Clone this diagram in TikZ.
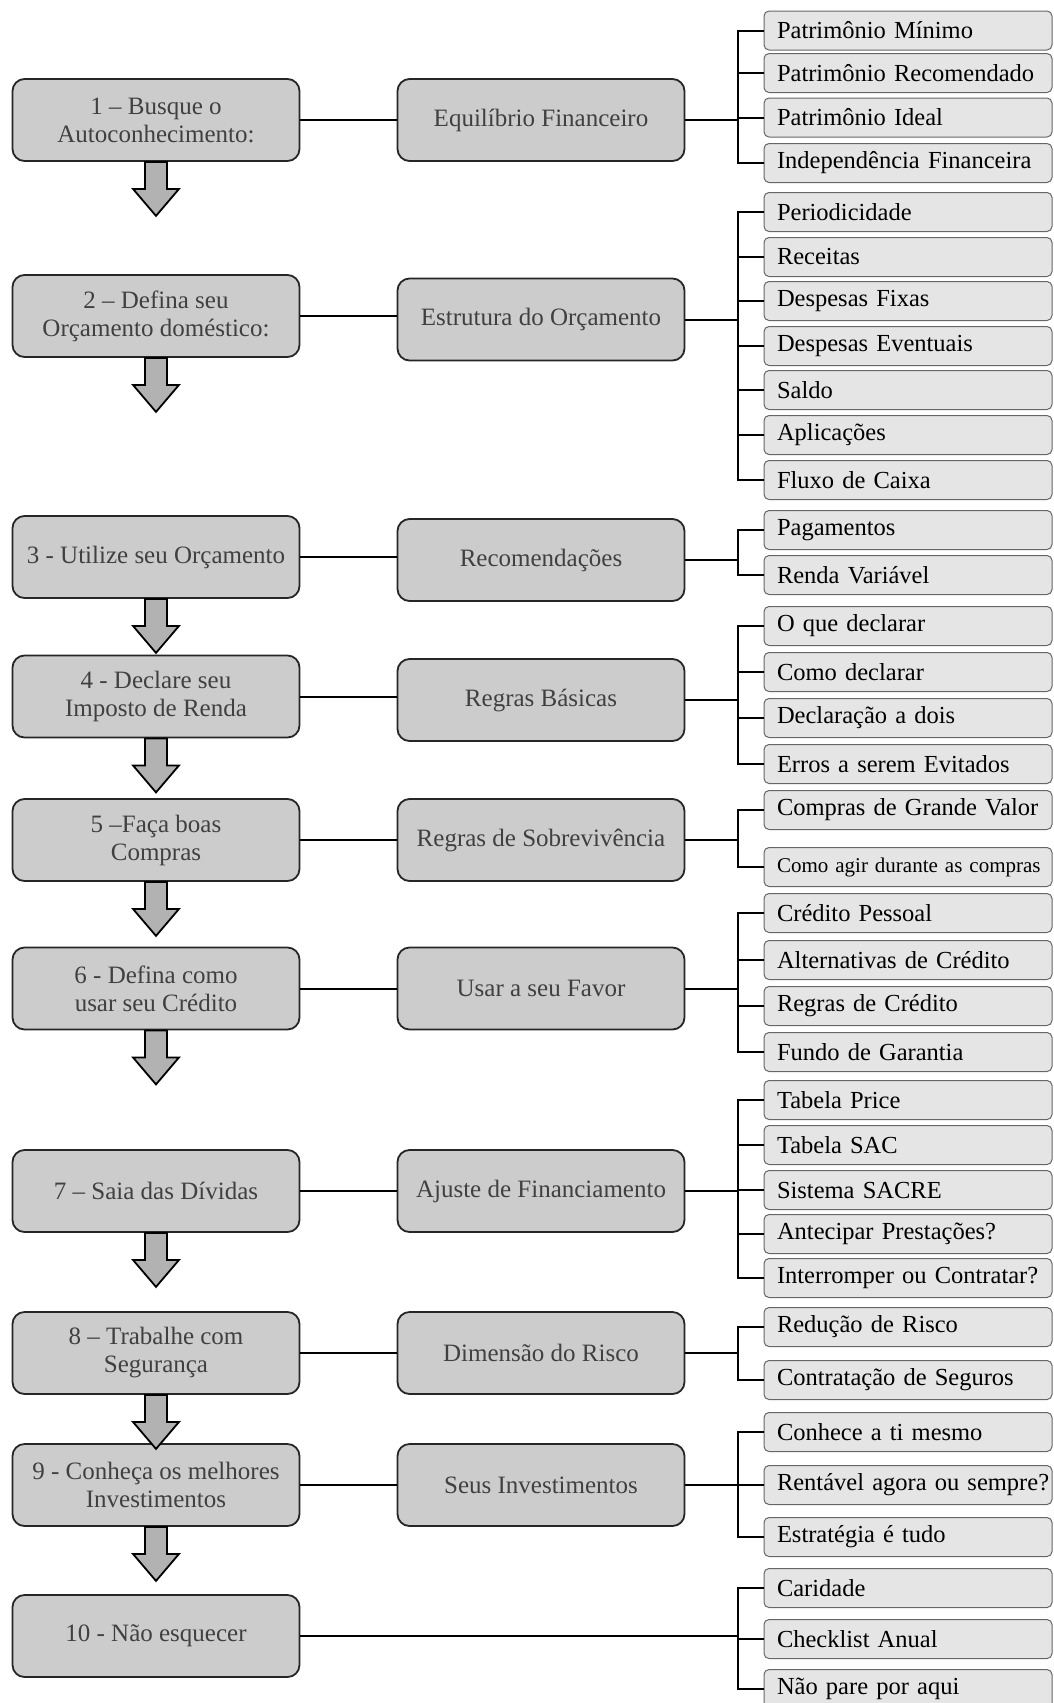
\documentclass[tikz,border=0pt]{standalone}
\usepackage{fontspec}
\setmainfont{Liberation Serif}
\begin{document}
\begin{tikzpicture}[x=1pt, y=-1pt,
    mainbox/.style={draw=black!85, line width=1.8pt, fill=black!20, rounded corners=12pt,
        minimum width=287pt, minimum height=82pt, inner sep=0pt, align=center,
        text=black!75, font=\fontsize{25}{28}\selectfont},
    subbox/.style={draw=black!60, line width=1pt, fill=black!10, rounded corners=5pt,
        minimum height=39pt, text width=262pt, inner xsep=13pt, inner ysep=0pt, align=left,
        font=\fontsize{24.5}{28}\selectfont},
    link/.style={line width=2pt},
    blockarrow/.style={draw=black, line width=1.8pt, fill=black!30}]
    \useasboundingbox (0,0) rectangle (1054,1703);

    % steps
    \node (m1)[mainbox] at (156, 120) {1 -- Busque o\\Autoconhecimento:};
    \node (m2)[mainbox] at (156, 316) {2 -- Defina seu\\Orçamento doméstico:};
    \node (m3)[mainbox] at (156, 557) {3 - Utilize seu Orçamento};
    \node (m4)[mainbox] at (156, 696.5) {4 - Declare seu\\Imposto de Renda};
    \node (m5)[mainbox] at (156, 840) {5 --Faça boas\\Compras};
    \node (m6)[mainbox] at (156, 988.5) {6 - Defina como\\usar seu Crédito};
    \node (m7)[mainbox] at (156, 1191) {7 -- Saia das Dívidas};
    \node (m8)[mainbox] at (156, 1353) {8 -- Trabalhe com\\Segurança};
    \node (m9)[mainbox] at (156, 1485) {9 - Conheça os melhores\\Investimentos};
    \node (m10)[mainbox] at (156, 1636) {10 - Não esquecer};

    % themes
    \node (n1)[mainbox] at (541, 120) {Equilíbrio Financeiro};
    \node (n2)[mainbox] at (541, 319.5) {Estrutura do Orçamento};
    \node (n3)[mainbox] at (541, 560) {Recomendações};
    \node (n4)[mainbox] at (541, 700) {Regras Básicas};
    \node (n5)[mainbox] at (541, 840) {Regras de Sobrevivência};
    \node (n6)[mainbox] at (541, 988.5) {Usar a seu Favor};
    \node (n7)[mainbox] at (541, 1191) {Ajuste de Financiamento};
    \node (n8)[mainbox] at (541, 1353) {Dimensão do Risco};
    \node (n9)[mainbox] at (541, 1485) {Seus Investimentos};

    % topics
    \node (s1a)[subbox] at (908, 30.5) {Patrimônio Mínimo};
    \node (s1b)[subbox] at (908, 73) {Patrimônio Recomendado};
    \node (s1c)[subbox] at (908, 117.5) {Patrimônio Ideal};
    \node (s1d)[subbox] at (908, 163) {Independência Financeira};

    \node (s2a)[subbox] at (908, 212) {Periodicidade};
    \node (s2b)[subbox] at (908, 257) {Receitas};
    \node (s2c)[subbox] at (908, 301) {Despesas Fixas};
    \node (s2d)[subbox] at (908, 346) {Despesas Eventuais};
    \node (s2e)[subbox] at (908, 390) {Saldo};
    \node (s2f)[subbox] at (908, 435) {Aplicações};
    \node (s2g)[subbox] at (908, 480) {Fluxo de Caixa};

    \node (s3a)[subbox] at (908, 530) {Pagamentos};
    \node (s3b)[subbox] at (908, 575) {Renda Variável};

    \node (s4a)[subbox] at (908, 626) {O que declarar};
    \node (s4b)[subbox] at (908, 672) {Como declarar};
    \node (s4c)[subbox] at (908, 718) {Declaração a dois};
    \node (s4d)[subbox] at (908, 764) {Erros a serem Evitados};

    \node (s5a)[subbox] at (908, 810) {Compras de Grande Valor};
    \node (s5b)[subbox, font=\fontsize{21}{24}\selectfont] at (908, 867) {\mbox{Como agir durante as compras}};

    \node (s6a)[subbox] at (908, 913) {Crédito Pessoal};
    \node (s6b)[subbox] at (908, 960) {Alternativas de Crédito};
    \node (s6c)[subbox] at (908, 1006) {Regras de Crédito};
    \node (s6d)[subbox] at (908, 1052) {Fundo de Garantia};

    \node (s7a)[subbox] at (908, 1100) {Tabela Price};
    \node (s7b)[subbox] at (908, 1145) {Tabela SAC};
    \node (s7c)[subbox] at (908, 1190) {Sistema SACRE};
    \node (s7d)[subbox] at (908, 1234) {Antecipar Prestações?};
    \node (s7e)[subbox] at (908, 1278) {Interromper ou Contratar?};

    \node (s8a)[subbox] at (908, 1327) {Redução de Risco};
    \node (s8b)[subbox] at (908, 1380) {Contratação de Seguros};

    \node (s9a)[subbox] at (908, 1432) {Conhece a ti mesmo};
    \node (s9b)[subbox] at (908, 1485) {\mbox{Rentável agora ou sempre?}};
    \node (s9c)[subbox] at (908, 1537) {Estratégia é tudo};

    \node (s10a)[subbox] at (908, 1588) {Caridade};
    \node (s10b)[subbox] at (908, 1639) {Checklist Anual};
    \node (s10c)[subbox] at (908, 1689) {Não pare por aqui};

    % bracket joints
    \coordinate (j1) at (738, 120);
    \coordinate (j2) at (738, 319.5);
    \coordinate (j3) at (738, 560);
    \coordinate (j4) at (738, 700);
    \coordinate (j5) at (738, 840);
    \coordinate (j6) at (738, 988.5);
    \coordinate (j7) at (738, 1191);
    \coordinate (j8) at (738, 1353);
    \coordinate (j9) at (738, 1485);
    \coordinate (j10) at (738, 1636);

    % step -> theme -> bracket
    \foreach \i in {1,...,9} {
        \draw[link] (m\i.east) -- (m\i.east -| n\i.west);
        \draw[link] (n\i.east) -- (j\i);
    }
    \draw[link] (m10.east) -- (j10);

    \foreach \s in {s1a,s1b,s1c,s1d} \draw[link] (\s.west) -| (j1);
    \foreach \s in {s2a,s2b,s2c,s2d,s2e,s2f,s2g} \draw[link] (\s.west) -| (j2);
    \foreach \s in {s3a,s3b} \draw[link] (\s.west) -| (j3);
    \foreach \s in {s4a,s4b,s4c,s4d} \draw[link] (\s.west) -| (j4);
    \foreach \s in {s5a,s5b} \draw[link] (\s.west) -| (j5);
    \foreach \s in {s6a,s6b,s6c,s6d} \draw[link] (\s.west) -| (j6);
    \foreach \s in {s7a,s7b,s7c,s7d,s7e} \draw[link] (\s.west) -| (j7);
    \foreach \s in {s8a,s8b} \draw[link] (\s.west) -| (j8);
    \foreach \s in {s9a,s9b,s9c} \draw[link] (\s.west) -| (j9);
    \foreach \s in {s10a,s10b,s10c} \draw[link] (\s.west) -| (j10);

    % down arrows
    \foreach \i in {1,...,9}
        \draw[blockarrow] ([xshift=-11pt]m\i.south) -- ++(0,27) -- ++(-12,0) -- ++(23,27)
            -- ++(23,-27) -- ++(-12,0) -- ++(0,-27) -- cycle;
\end{tikzpicture}
\end{document}
